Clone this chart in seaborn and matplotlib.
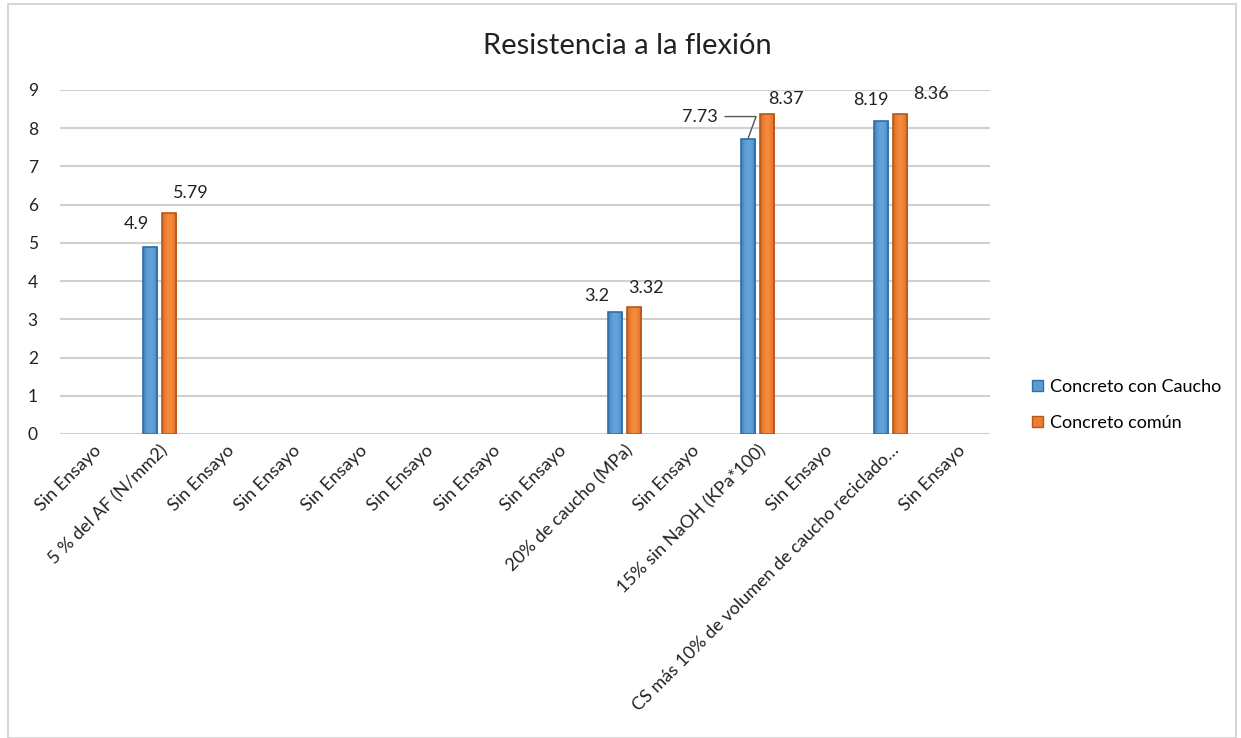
import matplotlib
matplotlib.use("Agg")
import matplotlib.pyplot as plt
import seaborn as sns
import pandas as pd
import numpy as np
from matplotlib.patches import Rectangle
from matplotlib.colors import to_rgb

# Category labels along the x axis
categories = [
    "Sin Ensayo",
    "5 % del AF (N/mm2)",
    "Sin Ensayo",
    "Sin Ensayo",
    "Sin Ensayo",
    "Sin Ensayo",
    "Sin Ensayo",
    "Sin Ensayo",
    "20% de caucho (MPa)",
    "Sin Ensayo",
    "15% sin NaOH (KPa*100)",
    "Sin Ensayo",
    "CS más 10% de volumen de caucho reciclado…",
    "Sin Ensayo",
]

# Flexural strength per category (None = not tested)
con_caucho = [None, 4.9, None, None, None, None, None, None, 3.2, None, 7.73, None, 8.19, None]
comun = [None, 5.79, None, None, None, None, None, None, 3.32, None, 8.37, None, 8.36, None]

series_names = ["Concreto con Caucho", "Concreto común"]
palette = {"Concreto con Caucho": "#5B9BD5", "Concreto común": "#ED7D31"}
edges = {"Concreto con Caucho": "#2F6EA8", "Concreto común": "#B9561A"}
shade_light = {"Concreto con Caucho": "#64A3DA", "Concreto común": "#F58A3E"}
shade_dark = {"Concreto con Caucho": "#3F7DBB", "Concreto común": "#D2661F"}

rows = []
for i in range(len(categories)):
    for name, vals in zip(series_names, [con_caucho, comun]):
        if vals[i] is not None:
            rows.append({"pos": i, "serie": name, "valor": vals[i]})
df = pd.DataFrame(rows)

plt.rcParams["font.family"] = ["Lato", "DejaVu Sans"]
fig = plt.figure(figsize=(12.41, 7.38), dpi=100)
ax = fig.add_axes([60 / 1241, 1 - 434 / 738, 930 / 1241, 344 / 738])

sns.barplot(
    data=df, x="pos", y="valor", hue="serie", order=list(range(len(categories))),
    hue_order=series_names, palette=palette, width=0.57, gap=0.26, saturation=1,
    errorbar=None, ax=ax, legend=True, zorder=3,
)

# Horizontal shading inside each bar: darker sides, lighter middle
for cont, name in zip(ax.containers, series_names):
    light = np.array(to_rgb(shade_light[name]))
    dark = np.array(to_rgb(shade_dark[name]))
    t = np.abs(np.linspace(-1, 1, 32)) ** 2
    grad = (1 - t)[:, None] * light + t[:, None] * dark
    grad = grad[None, :, :]
    for bar in cont:
        bar.set_edgecolor(edges[name])
        bar.set_linewidth(1.2)
        if np.isnan(bar.get_height()) or bar.get_height() == 0:
            continue
        x0, w, h = bar.get_x(), bar.get_width(), bar.get_height()
        im = ax.imshow(grad, extent=(x0, x0 + w, 0, h), aspect="auto",
                       interpolation="bilinear", zorder=3.5)
        im.set_clip_path(bar)
        bar.set_zorder(4)
        bar.set_facecolor("none")

ax.set_ylim(0, 9)
ax.set_xlim(-0.5, len(categories) - 0.5)
ax.set_yticks(range(0, 10))
ax.yaxis.grid(True, color="#D0D0D0", linewidth=1.5, zorder=0)
ax.xaxis.grid(False)
ax.set_axisbelow(True)
for s in ax.spines.values():
    s.set_visible(False)
ax.tick_params(axis="both", length=0, colors="#222222")
ax.tick_params(axis="y", pad=16, labelsize=12.5)
ax.set_xticks(range(len(categories)))
ax.set_xticklabels(categories, rotation=45, ha="right", rotation_mode="anchor")
ax.tick_params(axis="x", pad=6, labelsize=13)
ax.set_xlabel("")
ax.set_ylabel("")

# Value labels (pixel offsets from the top of each bar)
offsets = {
    (1, 0): (-14, 23), (1, 1): (22, 20),
    (8, 0): (-18, 16), (8, 1): (12, 19),
    (10, 0): (-30, 22), (10, 1): (19, 15),
    (12, 0): (-10, 21), (12, 1): (31, 20),
}
for s_idx, (cont, vals) in enumerate(zip(ax.containers, [con_caucho, comun])):
    present = [i for i, v in enumerate(vals) if v is not None]
    for bar, i in zip(cont, present):
        v = vals[i]
        x = bar.get_x() + bar.get_width() / 2
        dx, dy = offsets[(i, s_idx)]
        txt = f"{v:g}"
        if (i, s_idx) == (10, 0):
            ax.annotate(txt, xy=(x, v), xytext=(dx, dy), textcoords="offset pixels",
                        ha="right", va="center", fontsize=13, color="#222222",
                        arrowprops=dict(arrowstyle="-", color="#555555", lw=1,
                                        connectionstyle="angle,angleA=0,angleB=70,rad=0",
                                        shrinkA=3, shrinkB=0))
        else:
            ax.annotate(txt, xy=(x, v), xytext=(dx, dy), textcoords="offset pixels",
                        ha="center", va="center", fontsize=13, color="#222222")

leg = ax.legend(loc="center left", bbox_to_anchor=(1025 / 1241, 1 - 405 / 738),
                bbox_transform=fig.transFigure, frameon=False, fontsize=13,
                handlelength=0.6, handleheight=0.6, handletextpad=0.4,
                labelspacing=1.1, borderaxespad=0)
for h, name in zip(leg.legend_handles, series_names):
    h.set_edgecolor(edges[name])
    h.set_facecolor(palette[name])

fig.text(627 / 1241, 1 - 46 / 738, "Resistencia a la flexión", ha="center", va="center",
         fontsize=21, color="#222222")

fig.patches.append(Rectangle((8 / 1241, 0), 1228 / 1241, 1 - 4 / 738, transform=fig.transFigure,
                             fill=False, edgecolor="#CFCFCF", linewidth=1.2))

fig.savefig("out.png", dpi=100)
